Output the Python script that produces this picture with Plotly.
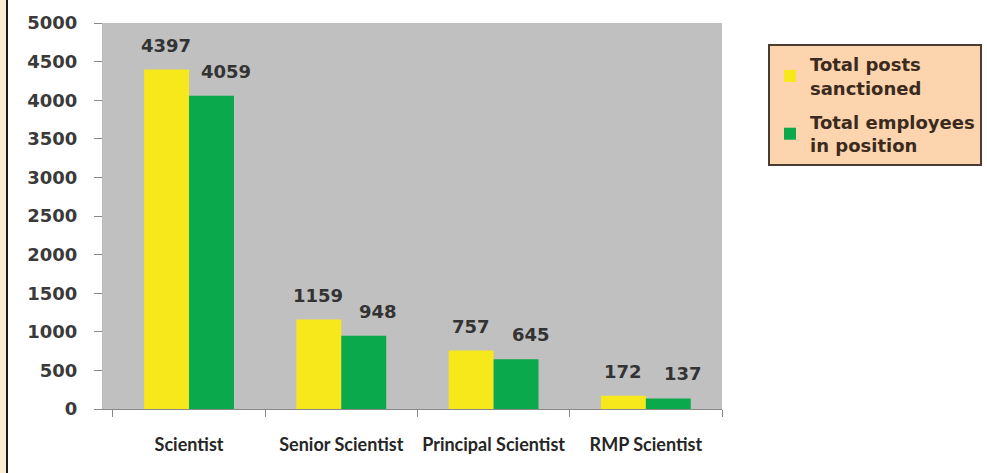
import plotly.graph_objects as go

categories = ["Scientist", "Senior Scientist", "Principal Scientist", "RMP Scientist"]
posts_sanctioned = [4397, 1159, 757, 172]
employees_in_position = [4059, 948, 645, 137]
series_names = ["Total posts<br>sanctioned", "Total employees<br>in position"]
y_ticks = [0, 500, 1000, 1500, 2000, 2500, 3000, 3500, 4000, 4500, 5000]

W, H = 987, 473
L, R, T, B = 103, 265, 23, 64
pw, ph = W - L - R, H - T - B

def px_x(p):
    return (p - L) / pw

def px_y(p):
    return 1 - (p - T) / ph

YELLOW = "#f6e81a"
GREEN = "#0aa94b"

fig = go.Figure()
fig.add_bar(x=categories, y=posts_sanctioned, name=series_names[0], legendgroup="a",
            marker=dict(color=YELLOW, line=dict(width=0)))
fig.add_bar(x=categories, y=employees_in_position, name=series_names[1], legendgroup="b",
            marker=dict(color=GREEN, line=dict(width=0)))

annotations = []
for vals, shift in ((posts_sanctioned, -23), (employees_in_position, 37)):
    for c, v in zip(categories, vals):
        annotations.append(dict(x=c, y=v, xref="x", yref="y", text=str(v),
                                showarrow=False, xshift=shift, yshift=12,
                                yanchor="bottom",
                                font=dict(family="DejaVu Sans", size=18, color="#333333",
                                          weight="bold")))

shapes = [
    dict(type="rect", xref="paper", yref="paper", x0=px_x(0), x1=px_x(6),
         y0=px_y(H), y1=px_y(0), fillcolor="#f7eed6", line=dict(width=0), layer="below"),
    dict(type="rect", xref="paper", yref="paper", x0=px_x(6), x1=px_x(8),
         y0=px_y(H), y1=px_y(0), fillcolor="#1a1a1a", line=dict(width=0), layer="below"),
]

fig.update_layout(
    width=W, height=H,
    margin=dict(l=L, r=R, t=T, b=B, pad=0, autoexpand=False),
    paper_bgcolor="white",
    plot_bgcolor="#c0c0c0",
    barmode="group", bargap=0.41, bargroupgap=0,
    showlegend=True,
    legend=dict(x=px_x(768), y=px_y(44), xanchor="left", yanchor="top",
                bgcolor="#fcd4ad", bordercolor="#4a3b33", borderwidth=2,
                font=dict(family="DejaVu Sans", size=18, color="#3b2a1e", weight="bold"),
                itemwidth=30, traceorder="grouped", tracegroupgap=8),
    annotations=annotations,
    shapes=shapes,
    xaxis=dict(range=[-0.565, 3.5], showgrid=False, showline=True, linecolor="#888888", linewidth=1,
               ticks="outside", tickson="boundaries", ticklen=7, tickcolor="#888888",
               tickangle=0,
               tickfont=dict(family="Lato", size=18, color="#262626", weight="bold"),
               ticklabelstandoff=19),
    yaxis=dict(range=[0, 5000], tickvals=y_ticks, showgrid=False, zeroline=False,
               showline=True, linecolor="#bbbbbb", linewidth=1,
               ticks="outside", ticklen=8, tickcolor="#888888",
               tickfont=dict(family="DejaVu Sans", size=18, color="#3a3a3a", weight="bold"),
               ticklabelstandoff=13),
)

fig.write_html("out.html", config={"displayModeBar": False},
               post_script="document.body.style.margin='0';")
